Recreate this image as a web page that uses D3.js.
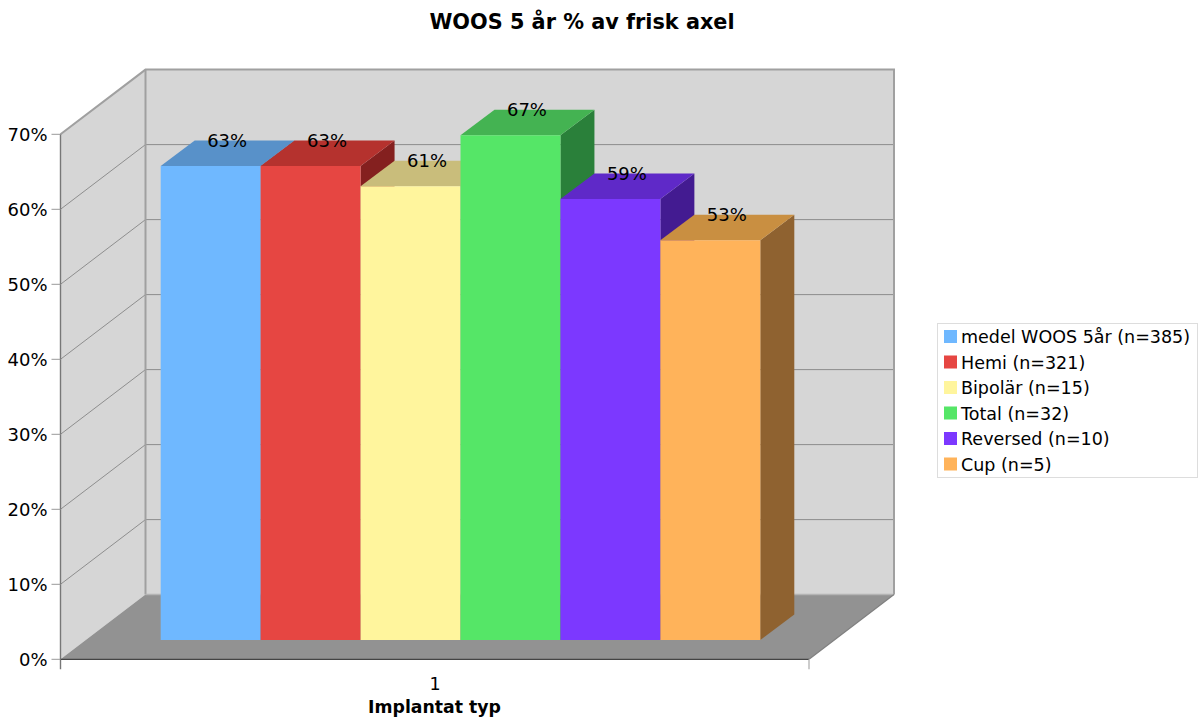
<!DOCTYPE html>
<html><head><meta charset="utf-8">
<script src="https://cdn.jsdelivr.net/npm/d3@7"></script>
<style>html,body{margin:0;padding:0;background:#fff}svg{display:block}text{font-family:"DejaVu Sans",sans-serif;fill:#000}</style>
</head><body><div id="chart"></div>
<script>
const categories = ["medel WOOS 5år (n=385)","Hemi (n=321)","Bipolär (n=15)","Total (n=32)","Reversed (n=10)","Cup (n=5)"];
const values = [63.2,63.2,60.5,67.3,58.8,53.3];
const labels = ["63%","63%","61%","67%","59%","53%"];
const frontColors = ["#6fb8ff","#e64642","#fff59d","#55e667","#7c38ff","#ffb35a"];
const topColors = ["#5891c9","#b5322e","#c9bd7b","#44b352","#5f29c8","#c98f41"];
const sideColors = ["#4a7aa8","#84201f","#8f8857","#2a803a","#431b91","#8f6230"];
const yTicks = [0,10,20,30,40,50,60,70];
const xTickLabel = "1";
const titleText = "WOOS 5 år % av frisk axel";
const xTitleText = "Implantat typ";

const W=1202,H=719;
const svg=d3.select("#chart").append("svg").attr("width",W).attr("height",H);
const left=60.5,right=809,floorY=659.3,depthX=85,depthY=-64.7;
const y=d3.scaleLinear().domain([0,70]).range([floorY,134.3]);
const x=d3.scaleBand().domain(categories).range([160.7,760.3]).padding(0);
const barBase=640,barDX=34,barDY=-25.5;
const barY=d3.scaleLinear().domain([0,70]).range([barBase,barBase-525]);
const poly=p=>p.map(d=>d.join(",")).join(" ");
const wallStroke="#a0a0a0",gridStroke="#8e8e8e";

// walls
svg.append("polygon").attr("points",poly([[left+depthX,y(70)+depthY],[right+depthX,y(70)+depthY],[right+depthX,floorY+depthY],[left+depthX,floorY+depthY]])).attr("fill","#d6d6d6");
svg.append("polygon").attr("points",poly([[left,y(70)],[left+depthX,y(70)+depthY],[left+depthX,floorY+depthY],[left,floorY]])).attr("fill","#d6d6d6");
svg.append("polygon").attr("points",poly([[left,floorY],[right,floorY],[right+depthX,floorY+depthY],[left+depthX,floorY+depthY]])).attr("fill","#929292");

// grid + ticks
const grid=svg.append("g").attr("fill","none");
yTicks.filter(d=>d>0&&d<70).forEach(d=>{
  grid.append("polyline").attr("points",poly([[left,y(d)],[left+depthX,y(d)+depthY],[right+depthX,y(d)+depthY]])).attr("stroke",gridStroke).attr("stroke-width",1);
});
// frame
const frame=svg.append("g").attr("fill","none").attr("stroke",wallStroke);
frame.append("polyline").attr("points",poly([[left,y(70)],[left+depthX,y(70)+depthY],[right+depthX,y(70)+depthY],[right+depthX,floorY+depthY]])).attr("stroke-width",2);
frame.append("line").attr("x1",left+depthX).attr("x2",left+depthX).attr("y1",y(70)+depthY).attr("y2",floorY+depthY).attr("stroke-width",2);
frame.append("line").attr("x1",left+depthX).attr("x2",right+depthX).attr("y1",floorY+depthY).attr("y2",floorY+depthY).attr("stroke-width",1.5).attr("stroke","#b4b4b4");
frame.append("line").attr("x1",right).attr("x2",right+depthX).attr("y1",floorY).attr("y2",floorY+depthY).attr("stroke-width",1.2).attr("stroke","#808080");
svg.append("line").attr("x1",left).attr("x2",left).attr("y1",y(70)).attr("y2",floorY+10).attr("stroke","#777").attr("stroke-width",1.4);
svg.append("line").attr("x1",left).attr("x2",right).attr("y1",floorY).attr("y2",floorY).attr("stroke","#444").attr("stroke-width",1.2);
svg.append("line").attr("x1",right).attr("x2",right).attr("y1",floorY).attr("y2",floorY+10).attr("stroke","#aaa").attr("stroke-width",1.2);

// y axis ticks
const ya=svg.append("g");
yTicks.forEach(d=>{
  ya.append("line").attr("x1",left-9).attr("x2",left).attr("y1",y(d)).attr("y2",y(d)).attr("stroke","#999");
  ya.append("text").attr("x",47.5).attr("y",y(d)+6.5).attr("text-anchor","end").attr("font-size",18).text(d+"%");
});

// bars
const bars=svg.append("g");
categories.forEach((c,i)=>{
  const x0=x(c),x1=x0+x.bandwidth(),t=barY(values[i]);
  bars.append("polygon").attr("points",poly([[x1,t],[x1+barDX,t+barDY],[x1+barDX,barBase+barDY],[x1,barBase]])).attr("fill",sideColors[i]);
  bars.append("polygon").attr("points",poly([[x0,t],[x0+barDX,t+barDY],[x1+barDX,t+barDY],[x1,t]])).attr("fill",topColors[i]);
  bars.append("rect").attr("x",x0).attr("y",t).attr("width",x.bandwidth()).attr("height",barBase-t).attr("fill",frontColors[i]);
});
// value labels
categories.forEach((c,i)=>{
  svg.append("text").attr("x",x(c)+x.bandwidth()/2+16.5).attr("y",barY(values[i])+barDY+6).attr("text-anchor","middle").attr("font-size",18).text(labels[i]);
});

// titles
svg.append("text").attr("x",582).attr("y",29).attr("text-anchor","middle").attr("font-size",20.8).attr("font-weight","bold").text(titleText);
svg.append("text").attr("x",435).attr("y",689.5).attr("text-anchor","middle").attr("font-size",17.5).text(xTickLabel);
svg.append("text").attr("x",434.5).attr("y",713).attr("text-anchor","middle").attr("font-size",17.3).attr("font-weight","bold").text(xTitleText);

// legend
const lg=svg.append("g");
lg.append("rect").attr("x",937.5).attr("y",323.5).attr("width",260).attr("height",154).attr("fill","#fff").attr("stroke","#ddd");
const rowY=d3.scalePoint().domain(categories).range([337,464.5]);
categories.forEach((c,i)=>{
  lg.append("rect").attr("x",944).attr("y",rowY(c)-7).attr("width",13).attr("height",13).attr("fill",frontColors[i]);
  lg.append("text").attr("x",961).attr("y",rowY(c)+6).attr("font-size",17.5).text(c);
});
</script></body></html>
